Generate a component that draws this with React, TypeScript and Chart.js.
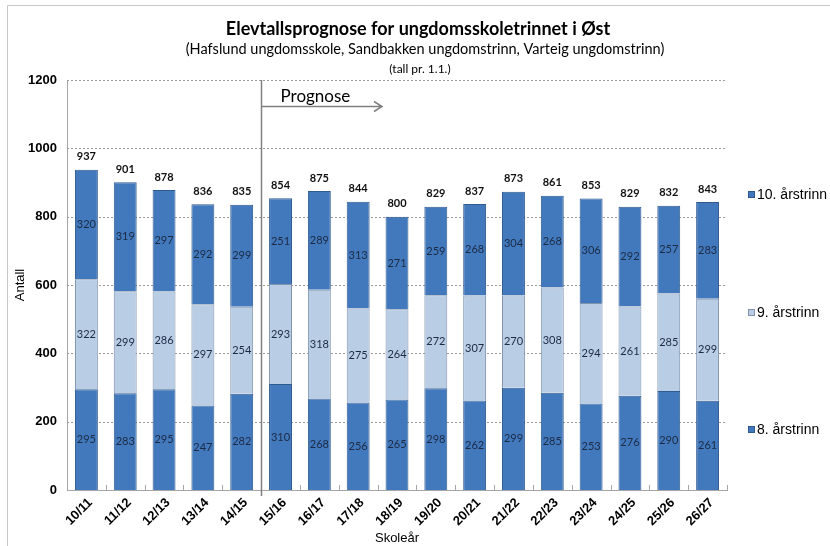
import React, { useEffect, useRef } from "react";
import { Chart, registerables } from "chart.js";

Chart.register(...registerables);

const categories = ["10/11", "11/12", "12/13", "13/14", "14/15", "15/16", "16/17", "17/18", "18/19", "19/20", "20/21", "21/22", "22/23", "23/24", "24/25", "25/26", "26/27"];
const grade8 = [295, 283, 295, 247, 282, 310, 268, 256, 265, 298, 262, 299, 285, 253, 276, 290, 261];
const grade9 = [322, 299, 286, 297, 254, 293, 318, 275, 264, 272, 307, 270, 308, 294, 261, 285, 299];
const grade10 = [320, 319, 297, 292, 299, 251, 289, 313, 271, 259, 268, 304, 268, 306, 292, 257, 283];
const totals = [937, 901, 878, 836, 835, 854, 875, 844, 800, 829, 837, 873, 861, 853, 829, 832, 843];
const seriesNames = ["8. årstrinn", "9. årstrinn", "10. årstrinn"];
const yTicks = [0, 200, 400, 600, 800, 1000, 1200];

const titleText = "Elevtallsprognose for ungdomsskoletrinnet i Øst";
const subtitleText = "(Hafslund ungdomsskole, Sandbakken ungdomstrinn, Varteig ungdomstrinn)";
const noteText = "(tall pr. 1.1.)";
const prognoseText = "Prognose";
const prognoseStartIndex = 5;

const DARK = "#4279bd";
const LIGHT = "#b9cde5";

export default function App() {
  const ref = useRef<HTMLCanvasElement | null>(null);

  useEffect(() => {
    const canvas = ref.current;
    if (!canvas) return;

    const overlay = {
      id: "overlay",
      beforeDraw(chart: any) {
        const ctx = chart.ctx;
        ctx.save();
        ctx.fillStyle = "#ffffff";
        ctx.fillRect(0, 0, chart.width, chart.height);
        ctx.strokeStyle = "#c8c8c8";
        ctx.lineWidth = 1;
        ctx.beginPath();
        ctx.moveTo(7.5, 546);
        ctx.lineTo(7.5, 5.5);
        ctx.lineTo(830, 5.5);
        ctx.stroke();
        ctx.restore();
      },
      beforeDatasetsDraw(chart: any) {
        const ctx = chart.ctx;
        const area = chart.chartArea;
        const y = chart.scales.y;
        ctx.save();
        ctx.strokeStyle = "#9a9a9a";
        ctx.lineWidth = 1;
        ctx.setLineDash([2, 2]);
        yTicks.forEach((v) => {
          if (v === 0) return;
          const py = Math.round(y.getPixelForValue(v)) + 0.5;
          ctx.beginPath();
          ctx.moveTo(area.left, py);
          ctx.lineTo(area.right, py);
          ctx.stroke();
        });
        ctx.restore();
      },
      afterDatasetsDraw(chart: any) {
        const ctx = chart.ctx;
        const area = chart.chartArea;
        const x = chart.scales.x;
        ctx.save();
        // inner tick marks at category boundaries
        ctx.strokeStyle = "#a6a6a6";
        ctx.lineWidth = 1;
        for (let i = 0; i <= categories.length; i++) {
          const px = Math.round(x.left + (i * (x.right - x.left)) / categories.length) + 0.5;
          ctx.beginPath();
          ctx.moveTo(px, area.bottom);
          ctx.lineTo(px, area.bottom - 5);
          ctx.stroke();
        }
        // segment labels
        ctx.textAlign = "center";
        ctx.textBaseline = "middle";
        ctx.font = "11px Lato, 'Open Sans', sans-serif";
        ctx.fillStyle = "#1c2a44";
        chart.data.datasets.forEach((ds: any, di: number) => {
          const meta = chart.getDatasetMeta(di);
          meta.data.forEach((bar: any, i: number) => {
            const cy = (bar.y + bar.base) / 2;
            ctx.fillText(String(ds.data[i]), bar.x, cy);
          });
        });
        // totals
        ctx.font = "bold 11px Lato, 'Open Sans', sans-serif";
        ctx.fillStyle = "#111111";
        const top = chart.getDatasetMeta(2);
        top.data.forEach((bar: any, i: number) => {
          ctx.fillText(String(totals[i]), bar.x, bar.y - 13);
        });
        // prognose line
        const lx = Math.round(x.left + (prognoseStartIndex * (x.right - x.left)) / categories.length) + 0.5;
        ctx.strokeStyle = "#808080";
        ctx.lineWidth = 1.5;
        ctx.beginPath();
        ctx.moveTo(lx, area.top);
        ctx.lineTo(lx, area.bottom + 6);
        ctx.stroke();
        ctx.beginPath();
        ctx.moveTo(lx, 106.5);
        ctx.lineTo(382, 106.5);
        ctx.moveTo(374, 101.5);
        ctx.lineTo(382, 106.5);
        ctx.lineTo(374, 111.5);
        ctx.stroke();
        ctx.fillStyle = "#000000";
        ctx.textAlign = "left";
        ctx.font = "17px Lato, 'Open Sans', sans-serif";
        ctx.fillText(prognoseText, lx + 19, 97);
        // titles
        ctx.textAlign = "center";
        ctx.font = "bold 18px Lato, 'Open Sans', sans-serif";
        ctx.fillText(titleText, 418, 29);
        ctx.font = "14.5px Lato, 'Open Sans', sans-serif";
        ctx.fillText(subtitleText, 425, 49);
        ctx.font = "12px Lato, 'Open Sans', sans-serif";
        ctx.fillText(noteText, 420, 69);
        // axis titles
        ctx.font = "13px 'Liberation Sans', Arial, sans-serif";
        ctx.fillText("Skoleår", (area.left + area.right) / 2, 538);
        ctx.save();
        ctx.translate(20, 285);
        ctx.rotate(-Math.PI / 2);
        ctx.fillText("Antall", 0, 0);
        ctx.restore();
        // legend
        const legend = [
          { name: seriesNames[2], color: DARK, border: "#2f5a8e", y: 195 },
          { name: seriesNames[1], color: LIGHT, border: "#7f93ad", y: 313 },
          { name: seriesNames[0], color: DARK, border: "#2f5a8e", y: 430 },
        ];
        ctx.textAlign = "left";
        ctx.font = "14px 'Liberation Sans', Arial, sans-serif";
        legend.forEach((l) => {
          ctx.fillStyle = l.color;
          ctx.fillRect(748, l.y - 4, 7, 7);
          ctx.strokeStyle = l.border;
          ctx.lineWidth = 1;
          ctx.strokeRect(748.5, l.y - 3.5, 6, 6);
          ctx.fillStyle = "#000000";
          ctx.fillText(l.name, 757, l.y);
        });
        ctx.restore();
      },
    };

    const chart = new Chart(canvas, {
      type: "bar",
      data: {
        labels: categories,
        datasets: [
          { label: seriesNames[0], data: grade8, backgroundColor: DARK, borderColor: "#2f5a8e", borderWidth: 1 },
          { label: seriesNames[1], data: grade9, backgroundColor: LIGHT, borderColor: "#7f93ad", borderWidth: 1 },
          { label: seriesNames[2], data: grade10, backgroundColor: DARK, borderColor: "#2f5a8e", borderWidth: 1 },
        ],
      },
      options: {
        responsive: false,
        animation: false,
        devicePixelRatio: 1,
        layout: { padding: { left: 0, right: 103, top: 80, bottom: 0 } },
        plugins: {
          legend: { display: false },
          tooltip: { enabled: false },
          title: { display: false },
        },
        datasets: { bar: { categoryPercentage: 1, barPercentage: 0.59 } },
        scales: {
          x: {
            stacked: true,
            grid: { display: false, drawTicks: false },
            border: { display: true, color: "#a6a6a6", width: 1 },
            ticks: {
              maxRotation: 45,
              minRotation: 45,
              padding: 5,
              labelOffset: 4,
              color: "#000000",
              font: { family: "'Liberation Sans', Arial, sans-serif", size: 13, weight: "bold" },
            },
            afterFit(scale: any) {
              scale.height = 56;
            },
          },
          y: {
            stacked: true,
            min: 0,
            max: 1200,
            afterBuildTicks(scale: any) {
              scale.ticks = yTicks.map((v) => ({ value: v }));
            },
            grid: { display: false, drawTicks: false },
            border: { display: true, color: "#a6a6a6", width: 1 },
            ticks: {
              padding: 10,
              color: "#000000",
              font: { family: "'Liberation Sans', Arial, sans-serif", size: 13, weight: "bold" },
              callback: (v: any) => String(v),
            },
            afterFit(scale: any) {
              scale.width = 67;
            },
          },
        },
      },
      plugins: [overlay],
    });

    return () => chart.destroy();
  }, []);

  return (
    <div style={{ position: "absolute", left: 0, top: 0, width: 830, height: 546 }}>
      <canvas ref={ref} width={830} height={546} style={{ width: 830, height: 546, display: "block" }} />
    </div>
  );
}
